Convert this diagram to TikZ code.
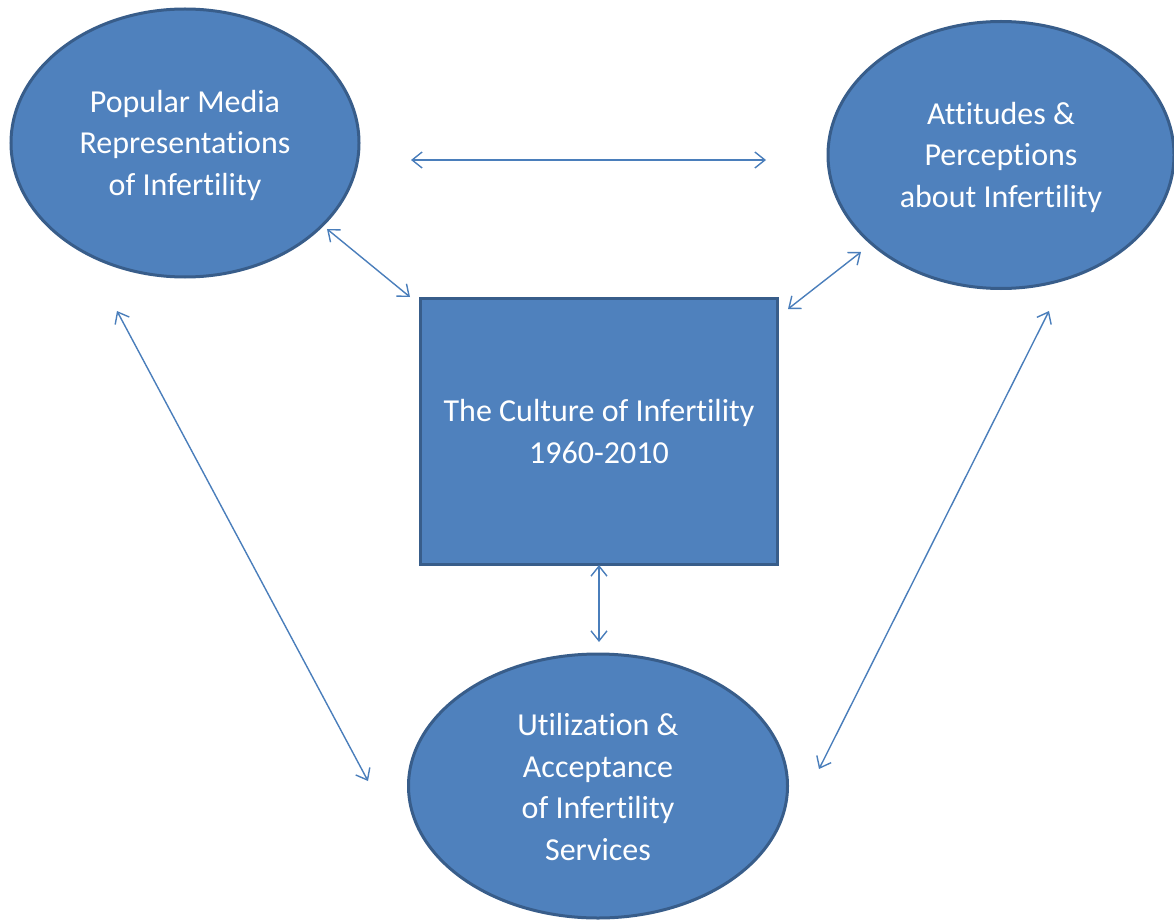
\documentclass[tikz,border=0pt]{standalone}
\usepackage{fontspec}
\setmainfont[Ligatures=NoCommon]{Carlito}
\usetikzlibrary{arrows.meta,shapes.geometric}
\definecolor{shapefill}{HTML}{4F81BD}
\definecolor{shapeline}{HTML}{385D8A}
\definecolor{arrowcol}{HTML}{4A7EBB}
\tikzset{
  oval/.style={ellipse, draw=shapeline, fill=shapefill, line width=3pt, inner sep=0pt},
  box/.style={rectangle, draw=shapeline, fill=shapefill, line width=3pt, inner sep=0pt},
  label text/.style={text=white, align=center, font=\fontsize{32}{41.5}\selectfont},
  link/.style={draw=arrowcol, line width=1.4pt, {Straight Barb[length=10pt,width=16pt,line width=1.4pt]}-{Straight Barb[length=10pt,width=16pt,line width=1.4pt]}}
}
\begin{document}
\begin{tikzpicture}[x=1pt,y=-1pt]
\useasboundingbox (0,0) rectangle (1174,920);
% shapes
\node[oval, minimum width=348pt, minimum height=268pt] (media) at (185,143) {};
\node[oval, minimum width=346pt, minimum height=267pt] (attitudes) at (1001,155) {};
\node[oval, minimum width=379pt, minimum height=264pt] (services) at (598,786) {};
\node[box, minimum width=357pt, minimum height=266pt] (culture) at (599,431) {};
% texts
\node[label text] (mediaT) at ([yshift=-2pt]media.center) {Popular Media\\Representations\\of Infertility};
\node[label text] (attitudesT) at ([yshift=-2pt]attitudes.center) {Attitudes \&\\Perceptions\\about Infertility};
\node[label text] (servicesT) at ([yshift=-1pt]services.center) {Utilization \&\\Acceptance\\of Infertility\\Services};
\node[label text] (cultureT) at ([yshift=-0.5pt]culture.center) {The Culture of Infertility\\1960-2010};
% arrow end points
\coordinate (h1) at (411,160);
\coordinate (h2) at (766,160);
\coordinate (d1) at (327,229);
\coordinate (d2) at (410,297);
\coordinate (e1) at (861,252);
\coordinate (e2) at (788,309);
\coordinate (v1) at (599,565);
\coordinate (v2) at (599,642);
\coordinate (l1) at (117,311);
\coordinate (l2) at (368,781);
\coordinate (r1) at (1049,311);
\coordinate (r2) at (819,769);
% connectors
\draw[link] (h1) -- (h2);
\draw[link] (d1) -- (d2);
\draw[link] (e1) -- (e2);
\draw[link] (v1) -- (v2);
\draw[link] (l1) -- (l2);
\draw[link] (r1) -- (r2);
\end{tikzpicture}
\end{document}
